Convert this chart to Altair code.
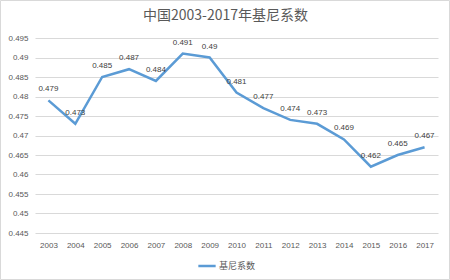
import altair as alt
import pandas as pd

years = [str(y) for y in range(2003, 2018)]
gini = [0.479, 0.473, 0.485, 0.487, 0.484, 0.491, 0.49, 0.481, 0.477, 0.474,
        0.473, 0.469, 0.462, 0.465, 0.467]
series_name = "基尼系数"
title_text = "中国2003-2017年基尼系数"
y_ticks = [0.445, 0.45, 0.455, 0.46, 0.465, 0.47, 0.475, 0.48, 0.485, 0.49, 0.495]

df = pd.DataFrame({"year": years, "gini": gini, "series": series_name})

FONT = "Noto Sans CJK SC"
NUMFONT = "Liberation Sans"

x = alt.X("year:N", sort=years, title=None,
          axis=alt.Axis(labelAngle=0, domain=False, ticks=False, grid=False,
                        labelFont=NUMFONT, labelFontSize=8, labelColor="#595959",
                        labelPadding=8))
y = alt.Y("gini:Q", title=None,
          scale=alt.Scale(domain=[0.445, 0.495], nice=False, zero=False),
          axis=alt.Axis(values=y_ticks, format=".3~f", domain=False, ticks=False,
                        grid=True, gridColor="#d9d9d9", gridWidth=1,
                        labelFont=NUMFONT, labelFontSize=8, labelColor="#595959",
                        labelPadding=7))

base = alt.Chart(df)

line = base.mark_line(strokeWidth=2.5).encode(
    x=x, y=y,
    color=alt.Color("series:N", title=None,
                    scale=alt.Scale(range=["#5B9BD5"]),
                    legend=alt.Legend(orient="none", legendX=162, legendY=218,
                                      symbolType="stroke", symbolStrokeWidth=2.5,
                                      symbolSize=300, labelFont=FONT, labelFontSize=9,
                                      labelColor="#595959", labelOffset=2))
)

labels = base.mark_text(dy=-11, font=NUMFONT, fontSize=8, color="#404040").encode(
    x=x, y=y, text=alt.Text("gini:Q", format=".3~f")
)

frame = alt.Chart(pd.DataFrame({"a": [0]})).mark_rect(
    fill=None, stroke="#d9d9d9", strokeWidth=1
).encode(x=alt.value(-34.5), x2=alt.value(414.5), y=alt.value(-37.5), y2=alt.value(241.5))

chart = alt.layer(frame, line, labels).properties(
    width=403, height=195,
    autosize=alt.AutoSizeParams(type="none"),
    padding={"left": 35, "top": 38, "right": 12, "bottom": 47},
    title=alt.TitleParams(title_text, font=FONT, fontSize=14, fontWeight="normal",
                          color="#595959", anchor="middle", dx=-11, offset=-23),
    background="white",
).configure_view(stroke=None)

chart.save("out.html", embed_options={"renderer": "svg", "actions": False})
